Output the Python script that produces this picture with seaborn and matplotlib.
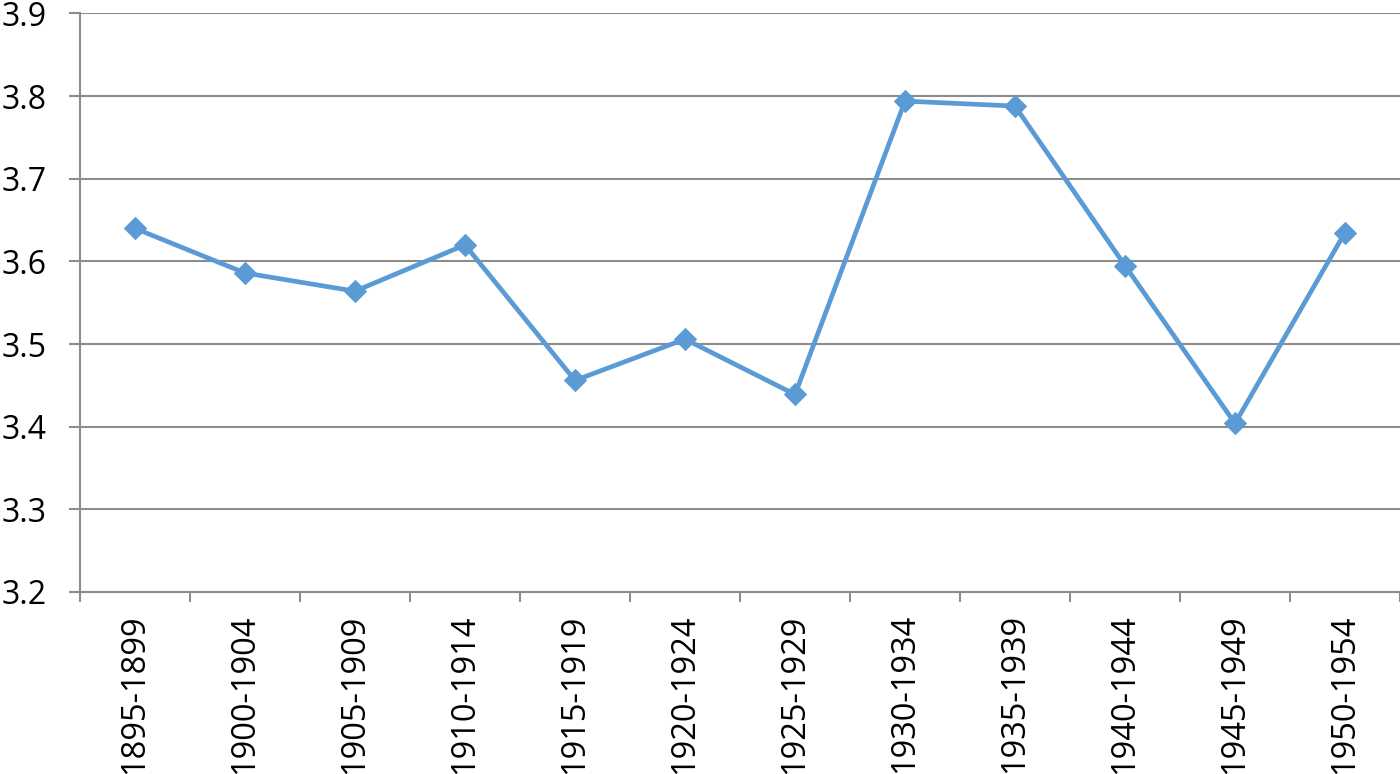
import numpy as np
import pandas as pd
import matplotlib
matplotlib.use('Agg')
import matplotlib.pyplot as plt
import seaborn as sns

periods = ['1895-1899', '1900-1904', '1905-1909', '1910-1914', '1915-1919', '1920-1924',
           '1925-1929', '1930-1934', '1935-1939', '1940-1944', '1945-1949', '1950-1954']
values = [3.640, 3.586, 3.564, 3.620, 3.456, 3.506,
          3.439, 3.794, 3.788, 3.595, 3.404, 3.635]
y_ticks = [3.2, 3.3, 3.4, 3.5, 3.6, 3.7, 3.8, 3.9]

df = pd.DataFrame({'period': periods, 'value': values})

sns.set_style('white')
plt.rcParams['font.family'] = ['Open Sans', 'DejaVu Sans']

grey = '#8c8c8c'
blue = '#5b9bd5'

fig = plt.figure(figsize=(14, 7.74), dpi=100)
ax = fig.add_axes([80 / 1400, 1 - 592 / 774, 1 - 80 / 1400, (592 - 13.5) / 774])

sns.lineplot(data=df, x='period', y='value', sort=False, ax=ax,
             color=blue, linewidth=3.4, marker='D', markersize=11.5,
             markeredgecolor=blue, clip_on=False, zorder=3)

ax.set_xlim(-0.5, len(periods) - 0.5)
ax.set_ylim(3.2, 3.9)
ax.set_yticks(y_ticks)
ax.set_yticklabels([f'{t:.1f}' for t in y_ticks])
ax.set_xticks(range(len(periods)))
ax.set_xticklabels(periods, rotation=90)
ax.set_xticks(np.arange(-0.5, len(periods)), minor=True)

ax.grid(axis='y', color=grey, linewidth=1.5)
ax.set_axisbelow(True)
for side in ['top', 'right']:
    ax.spines[side].set_visible(False)
for side in ['left', 'bottom']:
    ax.spines[side].set_color(grey)
    ax.spines[side].set_linewidth(1.5)

ax.tick_params(axis='y', which='major', direction='out', length=8, width=1.5,
               color=grey, labelsize=23, labelcolor='black', pad=16, left=True)
ax.tick_params(axis='x', which='major', length=0, labelsize=23.5,
               labelcolor='black', pad=16)
ax.tick_params(axis='x', which='minor', direction='out', length=7.5, width=1.5,
               color=grey, bottom=True)
ax.set_xlabel('')
ax.set_ylabel('')

fig.savefig('out.png', dpi=100)
